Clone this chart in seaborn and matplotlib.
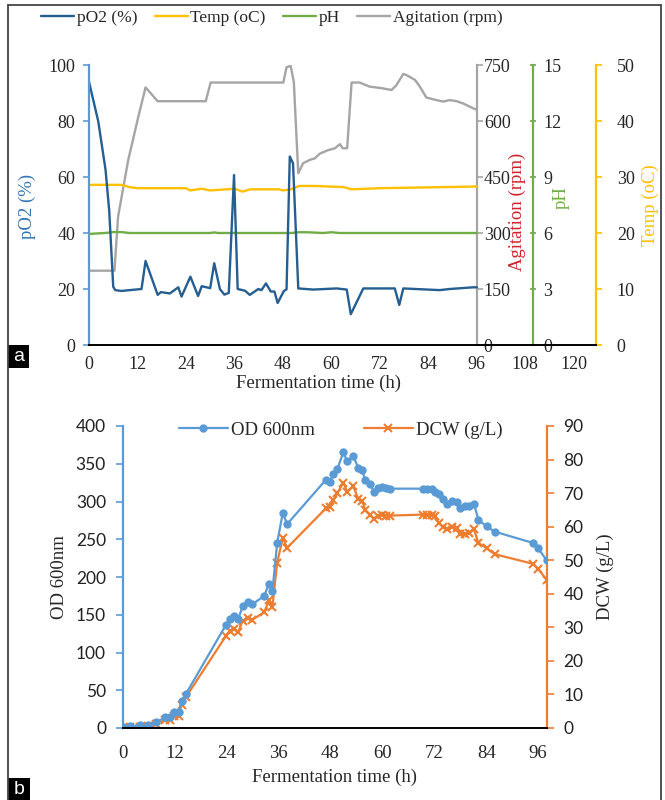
import matplotlib
matplotlib.use("Agg")
import matplotlib.pyplot as plt
import matplotlib.patches as mpatches
from matplotlib.lines import Line2D
import numpy as np
import pandas as pd
import seaborn as sns

# ---------------- data: panel a ----------------
po2_t = [0, 2.3, 4.1, 5, 6, 6.5, 8, 10.1, 13, 14, 17, 17.8, 20, 22.1, 22.9, 25.1, 27, 27.9,
         30, 31, 32.4, 33.5, 34.6, 35.9, 36.8, 38.6, 39.8, 41.9, 42.7, 43.8, 45, 45.9, 46.7,
         48.2, 48.9, 49.7, 50.5, 51.8, 55.5, 61.3, 63.8, 64.8, 67.9, 75.7, 76.8, 77.8, 86.8,
         89.3, 95.1, 96]
po2_v = [94, 79.8, 62.5, 48, 20.8, 19.6, 19.3, 19.6, 20, 30, 17.9, 18.9, 18.4, 20.6, 17.3,
         24.4, 17.5, 21, 20.3, 29.2, 20, 18, 18.6, 60.7, 20, 19.4, 17.9, 20, 19.6, 22, 19.1,
         19.1, 15, 19.2, 19.9, 67.3, 64.9, 20.2, 19.8, 20.2, 19.8, 11, 20.2, 20.2, 14.3, 20.2,
         19.6, 20, 20.6, 20.6]

agi_t = [0, 6.3, 7.2, 9.7, 12.2, 14, 17, 28.9, 30.1, 48.1, 48.9, 49.9, 50.7, 51.8, 53, 54.7,
         55.9, 57.2, 59.2, 60.9, 62.1, 62.8, 63.9, 65, 67, 69.5, 72.4, 74.9, 76.1, 77.8, 78.6,
         80.7, 81.9, 83.5, 86, 87.7, 89.3, 91, 92.6, 95.1, 96]
agi_v = [199, 199, 344, 495, 611, 690, 653, 653, 703, 703, 744, 748, 705, 460, 487, 496, 500,
         513, 522, 527, 538, 527, 527, 703, 703, 692, 688, 683, 696, 726, 723, 710, 692, 663,
         656, 652, 656, 653, 647, 634, 630]

temp_t = [0, 8, 10, 12, 24, 25, 28, 30, 34, 36, 38, 40, 47, 48, 50, 52, 56, 63, 65, 72, 96]
temp_v = [28.6, 28.6, 28.2, 28.0, 28.0, 27.6, 27.9, 27.6, 27.8, 27.9, 27.4, 27.8, 27.8, 27.6,
          27.8, 28.4, 28.4, 28.2, 27.8, 28.0, 28.3]

ph_t = [0, 4, 6, 8, 10, 30, 31, 32, 50, 52, 54, 58, 60, 62, 96]
ph_v = [5.95, 6.0, 6.05, 6.05, 6.0, 6.0, 6.03, 6.0, 6.0, 6.04, 6.04, 6.0, 6.04, 6.0, 6.0]

# ---------------- data: panel b ----------------
b_t = [0, 1.7, 4, 5.9, 7.8, 9.8, 10.9, 11.9, 12.9, 13.6, 14.6, 23.9, 24.8, 25.8, 26.7, 27.7,
       28.9, 30, 32.7, 33.8, 34.6, 35.7, 37, 38, 47, 47.8, 48.7, 49.6, 51, 51.9, 53.3, 54.5,
       55.4, 56, 57.2, 58.1, 58.9, 59.9, 60.9, 61.8, 69.5, 70.4, 71.4, 72.2, 73, 74.1, 74.9,
       76, 77.2, 78, 79.1, 80.1, 81.2, 82.2, 84.1, 86, 94.9, 96, 98]
od_v = [1, 2, 4, 4, 7.5, 14, 14, 21, 21, 36, 45, 137, 145, 148, 144, 161, 167, 164, 175, 191,
        181, 245, 285, 270, 329, 326, 336, 343, 365, 353, 360, 344, 342, 328, 323, 313, 318,
        319, 318, 317, 317, 317, 316, 313, 310, 303, 297, 301, 300, 292, 294, 294, 297, 276,
        267, 260, 245, 238, 222]
dcw_v = [0, 0.3, 0.4, 0.6, 1.2, 2.3, 2.5, 3.5, 3.7, 7, 9.2, 27.5, 29, 29.5, 28.5, 32, 32.7,
         32.3, 34.5, 38, 36, 49.3, 56.6, 53.7, 65.5, 65.8, 67.8, 70, 73.1, 70.4, 72, 68.1, 67.7,
         65, 63.6, 62.2, 63.3, 63.6, 63.3, 63.3, 63.6, 63.6, 63.6, 63.2, 61.2, 59.9, 59.2, 60,
         59.6, 57.8, 57.9, 58.1, 59.2, 55.2, 53.6, 51.8, 48.9, 47.5, 44.1]

a_ticks_x = [0, 12, 24, 36, 48, 60, 72, 84, 96, 108, 120]
a_ticks_po2 = [0, 20, 40, 60, 80, 100]
a_ticks_agi = [0, 150, 300, 450, 600, 750]
a_ticks_ph = [0, 3, 6, 9, 12, 15]
a_ticks_tmp = [0, 10, 20, 30, 40, 50]
b_ticks_x = [0, 12, 24, 36, 48, 60, 72, 84, 96]
b_ticks_od = [0, 50, 100, 150, 200, 250, 300, 350, 400]
b_ticks_dcw = [0, 10, 20, 30, 40, 50, 60, 70, 80, 90]

# ---------------- style ----------------
sns.set_style("white")
SERIF = ["Liberation Serif", "DejaVu Serif"]
SANS = ["Lato", "DejaVu Sans"]
plt.rcParams["font.family"] = SERIF
plt.rcParams["axes.linewidth"] = 1.2

C_PO2 = "#255E91"
C_TEMP = "#FFC000"
C_PH = "#70AD47"
C_AGI = "#A5A5A5"
C_BLUE = "#5B9BD5"
C_ORANGE = "#ED7D31"
C_RED = "#D0202A"

W, H = 665, 800
fig = plt.figure(figsize=(W / 100, H / 100), dpi=100)


def lbl(vals):
    return [str(v) for v in vals]


# ---------------- panel a ----------------
ax = fig.add_axes([89 / W, 1 - 345 / H, 507 / W, 280 / H])
XMAX_A = 125.5

ax_ag = ax.twinx()
ax_ph = ax.twinx()
ax_tp = ax.twinx()

df_po2 = pd.DataFrame({"t": po2_t, "v": po2_v})
df_agi = pd.DataFrame({"t": agi_t, "v": agi_v})
df_tmp = pd.DataFrame({"t": temp_t, "v": temp_v})
df_ph = pd.DataFrame({"t": ph_t, "v": ph_v})

sns.lineplot(data=df_agi, x="t", y="v", ax=ax_ag, color=C_AGI, lw=1.7, estimator=None,
             sort=False, legend=False)
sns.lineplot(data=df_ph, x="t", y="v", ax=ax_ph, color=C_PH, lw=1.7, estimator=None,
             sort=False, legend=False)
sns.lineplot(data=df_tmp, x="t", y="v", ax=ax_tp, color=C_TEMP, lw=1.7, estimator=None,
             sort=False, legend=False)
sns.lineplot(data=df_po2, x="t", y="v", ax=ax, color=C_PO2, lw=1.7, estimator=None,
             sort=False, legend=False)
ax.set_zorder(ax_tp.get_zorder() + 1)
ax.patch.set_visible(False)

ax.set_ylim(0, 100)
ax_ag.set_ylim(0, 750)
ax_ph.set_ylim(0, 15)
ax_tp.set_ylim(0, 50)
for a in (ax, ax_ag, ax_ph, ax_tp):
    a.set_xlabel("")
    a.set_ylabel("")
    a.set_xlim(0, XMAX_A)

for s in ("top", "right"):
    ax.spines[s].set_visible(False)
ax.spines["left"].set_color(C_BLUE)
ax.spines["left"].set_linewidth(1.6)
ax.spines["bottom"].set_color("black")
ax.spines["bottom"].set_linewidth(1.4)
ax.set_xticks(a_ticks_x, labels=lbl(a_ticks_x), fontfamily=SERIF, fontsize=13)
ax.set_yticks(a_ticks_po2, labels=lbl(a_ticks_po2), fontfamily=SERIF, fontsize=13)
ax.tick_params(axis="x", direction="out", length=4, width=1.2, pad=4)
ax.tick_params(axis="y", direction="out", length=4, width=1.2, color=C_BLUE, pad=6)

for a, pos, col, ticks, pad, tdir in (
        (ax_ag, 96, C_AGI, a_ticks_agi, 1, "out"),
        (ax_ph, 110, C_PH, a_ticks_ph, 5, "inout"),
        (ax_tp, XMAX_A, C_TEMP, a_ticks_tmp, 11, "out")):
    for s in ("top", "left", "bottom"):
        a.spines[s].set_visible(False)
    a.spines["right"].set_position(("axes", pos / XMAX_A))
    a.spines["right"].set_color(col)
    a.spines["right"].set_linewidth(1.6)
    a.set_yticks(ticks, labels=lbl(ticks), fontfamily=SERIF, fontsize=13)
    a.tick_params(axis="y", direction=tdir, length=4, width=1.2, color=col, pad=pad)

# axis titles (panel a)
fig.text(27 / W, 1 - 206 / H, "pO2 (%)", rotation=90, ha="center", va="center",
         color="#2E75B6", fontsize=13.5, family=SERIF)
fig.text(517 / W, 1 - 212 / H, "Agitation (rpm)", rotation=90, ha="center", va="center",
         color=C_RED, fontsize=13.5, family=SERIF)
fig.text(561 / W, 1 - 198 / H, "pH", rotation=90, ha="center", va="center",
         color=C_PH, fontsize=13.5, family=SERIF)
fig.text(650 / W, 1 - 205 / H, "Temp (oC)", rotation=90, ha="center", va="center",
         color=C_TEMP, fontsize=13.5, family=SERIF)
fig.text(318 / W, 1 - 383 / H, "Fermentation time (h)", ha="center", va="center",
         fontsize=13.5, family=SERIF)

hs = [Line2D([], [], color=C_PO2, lw=1.7), Line2D([], [], color=C_TEMP, lw=1.7),
      Line2D([], [], color=C_PH, lw=1.7), Line2D([], [], color=C_AGI, lw=1.7)]
fig.legend(hs, ["pO2 (%)", "Temp (oC)", "pH", "Agitation (rpm)"], loc="center",
           bbox_to_anchor=(272 / W, 1 - 18 / H), ncol=4, frameon=False,
           prop={"family": SERIF, "size": 12.5},
           handlelength=1.9, handletextpad=0.15, columnspacing=1.0)

# ---------------- panel b ----------------
bx = fig.add_axes([122.7 / W, 1 - 728 / H, 424 / W, 302 / H])
bxr = bx.twinx()

df_b = pd.DataFrame({"t": b_t, "od": od_v, "dcw": dcw_v})
sns.lineplot(data=df_b, x="t", y="od", ax=bx, color=C_BLUE, lw=1.6, marker="o",
             markersize=6, markeredgewidth=0, estimator=None, sort=False, legend=False)
sns.lineplot(data=df_b, x="t", y="dcw", ax=bxr, color=C_ORANGE, lw=1.6, marker="x",
             markersize=5.5, markeredgewidth=1.5, markeredgecolor=C_ORANGE,
             markerfacecolor=C_ORANGE, estimator=None, sort=False, legend=False)
bx.set_ylim(0, 400)
bxr.set_ylim(0, 90)
for a in (bx, bxr):
    a.set_xlim(0, 98)
    a.set_xlabel("")
    a.set_ylabel("")
bx.set_zorder(bxr.get_zorder() + 1)
bx.patch.set_visible(False)

for s in ("top", "right"):
    bx.spines[s].set_visible(False)
bx.spines["left"].set_color(C_BLUE)
bx.spines["left"].set_linewidth(1.6)
bx.spines["bottom"].set_color("black")
bx.spines["bottom"].set_linewidth(1.4)
for s in ("top", "left", "bottom"):
    bxr.spines[s].set_visible(False)
bxr.spines["right"].set_color(C_ORANGE)
bxr.spines["right"].set_linewidth(1.6)

bx.set_xticks(b_ticks_x, labels=lbl(b_ticks_x), fontfamily=SERIF, fontsize=13.5)
bx.set_yticks(b_ticks_od, labels=lbl(b_ticks_od), fontfamily=SANS, fontsize=12.5,
              color="#222222")
bxr.set_yticks(b_ticks_dcw, labels=lbl(b_ticks_dcw), fontfamily=SANS, fontsize=12.5,
               color="#222222")
bx.tick_params(axis="x", direction="out", length=5, width=1.2, pad=7)
bx.tick_params(axis="y", direction="out", length=5, width=1.2, color=C_BLUE, pad=7)
bxr.tick_params(axis="y", direction="out", length=5, width=1.2, color=C_ORANGE, pad=7)

fig.text(59 / W, 1 - 577 / H, "OD 600nm", rotation=90, ha="center", va="center",
         fontsize=13.5, family=SERIF)
fig.text(605 / W, 1 - 577 / H, "DCW (g/L)", rotation=90, ha="center", va="center",
         fontsize=13.5, family=SERIF)
fig.text(335 / W, 1 - 777 / H, "Fermentation time (h)", ha="center", va="center",
         fontsize=13.5, family=SERIF)

hb = [Line2D([], [], color=C_BLUE, lw=1.6, marker="o", markersize=6, markeredgewidth=0),
      Line2D([], [], color=C_ORANGE, lw=1.6, marker="x", markersize=5.5,
             markeredgewidth=1.5)]
fig.legend(hb, ["OD 600nm", "DCW (g/L)"], loc="center", bbox_to_anchor=(341 / W, 1 - 430 / H),
           ncol=2, frameon=False, prop={"family": SERIF, "size": 13.5},
           handlelength=2.6, handletextpad=0.2, columnspacing=2.6)

# ---------------- frame & panel tags ----------------
fc = "#444444"
fig.add_artist(Line2D([8 / W, 8 / W], [0, 1 - 5 / H], color=fc, lw=1.3))
fig.add_artist(Line2D([8 / W, 661 / W], [1 - 5 / H, 1 - 5 / H], color=fc, lw=1.3))
fig.add_artist(Line2D([661 / W, 661 / W], [1 - 5 / H, 0], color=fc, lw=1.3))

for (x0, y0, w, h, t) in ((8, 345, 21, 23, "a"), (8, 778, 22, 22, "b")):
    fig.add_artist(mpatches.Rectangle((x0 / W, 1 - (y0 + h) / H), w / W, h / H,
                                      transform=fig.transFigure, color="black", lw=0))
    fig.text((x0 + w / 2) / W, 1 - (y0 + h / 2) / H, t, color="white", ha="center",
             va="center", fontsize=14, family=["Liberation Sans", "DejaVu Sans"])

fig.savefig("out.png", dpi=100)
